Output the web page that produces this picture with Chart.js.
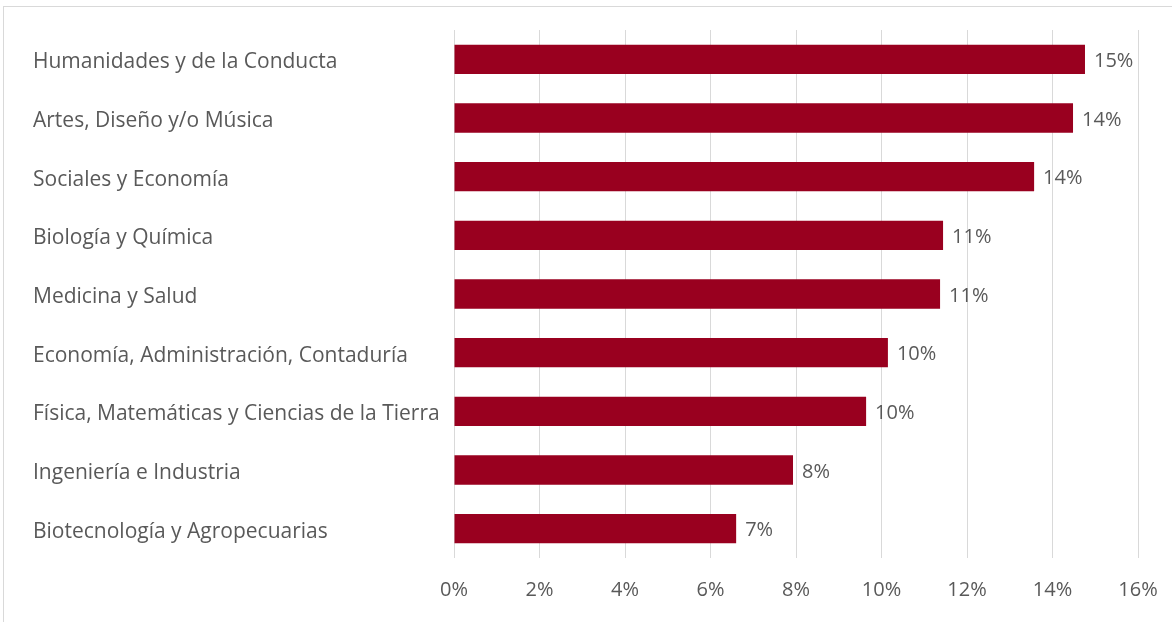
<!DOCTYPE html>
<html>
<head>
<meta charset="utf-8">
<script src="https://cdn.jsdelivr.net/npm/chart.js@4/dist/chart.umd.min.js"></script>
<style>
html,body{margin:0;padding:0;background:#fff;}
#wrap{width:1172px;height:622px;position:relative;}
</style>
</head>
<body>
<div id="wrap"><canvas id="c" width="1172" height="622"></canvas></div>
<script>
const categories = [
  "Humanidades y de la Conducta",
  "Artes, Diseño y/o Música",
  "Sociales y Economía",
  "Biología y Química",
  "Medicina y Salud",
  "Economía, Administración, Contaduría",
  "Física, Matemáticas y Ciencias de la Tierra",
  "Ingeniería e Industria",
  "Biotecnología y Agropecuarias"
];
const values = [14.76, 14.48, 13.57, 11.44, 11.37, 10.15, 9.64, 7.93, 6.60];
const xTicks = [0, 2, 4, 6, 8, 10, 12, 14, 16];

const FONT = "'Open Sans', sans-serif";
const TXT = '#595959';

const frame = {
  id: 'frame',
  beforeDraw(chart) {
    const ctx = chart.ctx;
    ctx.save();
    ctx.fillStyle = '#fff';
    ctx.fillRect(0, 0, chart.width, chart.height);
    ctx.strokeStyle = '#d9d9d9';
    ctx.lineWidth = 1;
    ctx.strokeRect(3.5, 6.5, chart.width + 10, chart.height + 10);
    ctx.restore();
  }
};

const valueLabels = {
  id: 'valueLabels',
  afterDatasetsDraw(chart) {
    const ctx = chart.ctx;
    const meta = chart.getDatasetMeta(0);
    ctx.save();
    ctx.font = "20px " + FONT;
    ctx.fillStyle = TXT;
    ctx.textAlign = 'left';
    ctx.textBaseline = 'middle';
    meta.data.forEach((bar, i) => {
      ctx.fillText(Math.round(values[i]) + '%', bar.x + 9, bar.y + 2);
    });
    ctx.restore();
  }
};

new Chart(document.getElementById('c'), {
  type: 'bar',
  data: {
    labels: categories,
    datasets: [{
      data: values,
      backgroundColor: '#99001f',
      borderWidth: 0,
      categoryPercentage: 0.5,
      barPercentage: 1.0
    }]
  },
  options: {
    indexAxis: 'y',
    responsive: false,
    animation: false,
    layout: { padding: { top: 30, right: 34, bottom: 0, left: 33 } },
    plugins: { legend: { display: false }, tooltip: { enabled: false } },
    scales: {
      x: {
        min: 0, max: 16,
        afterBuildTicks(s) { s.ticks = xTicks.map(v => ({ value: v })); },
        afterFit(s) { s.paddingRight = 0; s.paddingLeft = 0; },
        ticks: {
          callback: v => v + '%',
          font: { family: FONT, size: 20 },
          color: TXT,
          padding: 20,
          maxRotation: 0
        },
        grid: { color: '#d9d9d9', lineWidth: 1, drawTicks: false },
        border: { display: false }
      },
      y: {
        ticks: {
          crossAlign: 'far',
          font: { family: FONT, size: 21 },
          color: TXT,
          padding: 8,
          labelOffset: 3
        },
        grid: { display: false, drawTicks: false },
        border: { display: false },
        afterFit(s) { s.width = 421; }
      }
    }
  },
  plugins: [frame, valueLabels]
});
</script>
</body>
</html>
